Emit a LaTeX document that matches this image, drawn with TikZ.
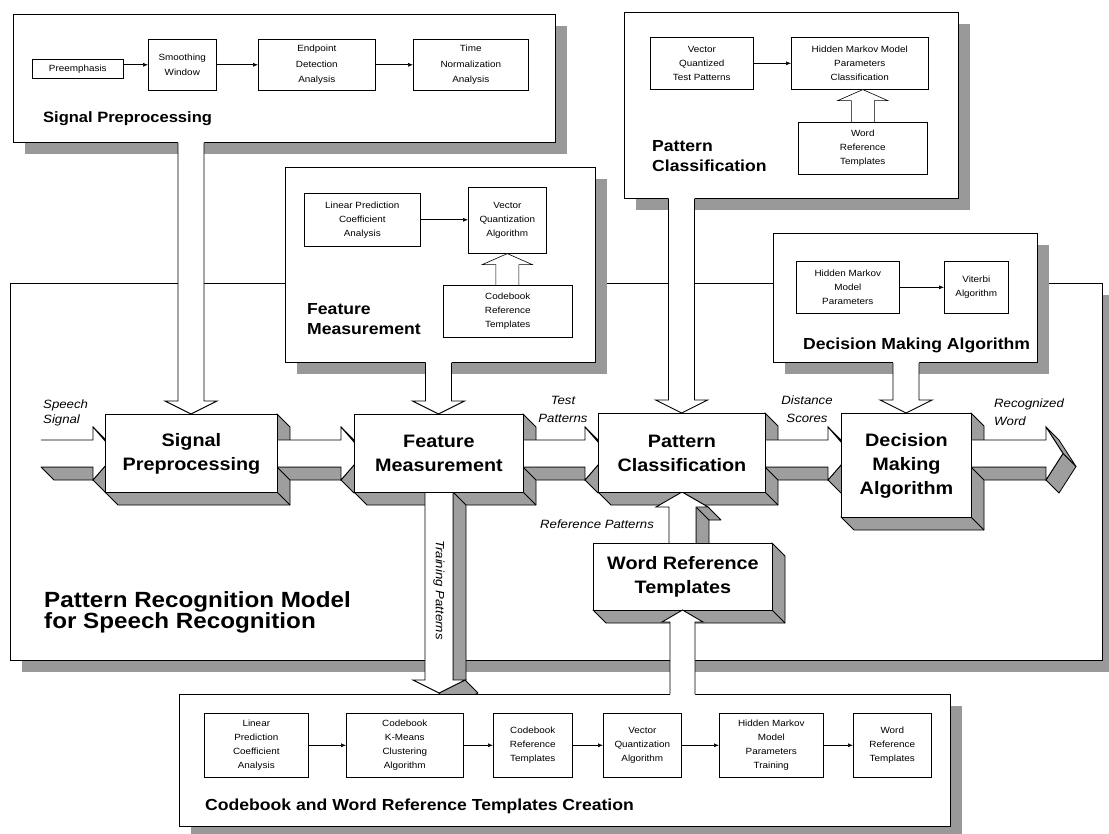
\documentclass[tikz,border=0pt]{standalone}
\usepackage{fontspec}
\setmainfont{Liberation Sans}[FakeStretch=1.1]
\usetikzlibrary{calc,arrows.meta}
\definecolor{extc}{gray}{0.62}
\definecolor{shc}{gray}{0.6}
\tikzset{
 panel/.style={draw=black,line width=0.9pt,fill=white,inner sep=0pt},
 ibox/.style={draw=black,line width=0.6pt,fill=white,align=center,inner sep=0pt,font=\fontsize{9}{14}\selectfont},
 sbox/.style={ibox,font=\fontsize{9}{15.5}\selectfont},
 arr/.style={-{Latex[length=5pt,width=4pt]},line width=0.6pt},
 bigbox/.style={draw=black,line width=0.9pt,fill=white,align=center,inner sep=0pt,font=\fontsize{18}{24}\selectfont\bfseries},
 plabel/.style={font=\fontsize{16}{20}\selectfont\bfseries,inner sep=0pt,anchor=base west},
 mlabel/.style={font=\fontsize{22}{22}\selectfont\bfseries,inner sep=0pt,anchor=base west},
 flabel/.style={font=\fontsize{12}{16}\selectfont\itshape,inner sep=0pt},
 fl/.style={draw=black,line width=0.9pt,line join=miter},
 ext/.style={fill=extc,draw=black,line width=0.8pt,line join=round},
}
\newcommand\mkpanel[5]{%
 \fill[shc] (#2+12,#3+12) rectangle (#4+12,#5+12);
 \node[panel,minimum width={(#4)-(#2)},minimum height={(#5)-(#3)},anchor=north west] (#1) at (#2,#3) {};}
\newcommand\ibx[7]{\node[#1,minimum width={(#5)-(#3)},minimum height={(#6)-(#4)},anchor=north west] (#2) at (#3,#4) {#7};}
\newcommand\bext[4]{%
 \filldraw[ext] (#1,#4) -- (#1+13,#4+13) -- (#3+13,#4+13) -- (#3+13,#2+13) -- (#3,#2) -- cycle;
 \draw[line width=0.8pt] (#3,#4) -- (#3+13,#4+13);}
\newcommand\harr[3]{%
 \filldraw[ext] (#2,427) -- (#3,453.5) -- (#3+13,466.5) -- (#2+13,440) -- cycle;
 \filldraw[ext] (#1,467) -- (#2,467) -- (#2+13,480) -- (#1+13,480) -- cycle;
 \filldraw[ext] (#2,480) -- (#3,453.5) -- (#3+13,466.5) -- (#2+13,493) -- cycle;
 \filldraw[fl,fill=white] (#1,440) -- (#2,440) -- (#2,427) -- (#3,453.5) -- (#2,480) -- (#2,467) -- (#1,467);}
\newcommand\dnarr[2]{%
 \fill[white] ($(#1)+(-13,-1)$) -- ($(#2)+(-13,-13)$) -- ($(#2)+(-26,-13)$) -- (#2) -- ($(#2)+(26,-13)$) -- ($(#2)+(13,-13)$) -- ($(#1)+(13,-1)$) -- cycle;
 \draw[fl] ($(#1)+(-13,0)$) -- ($(#2)+(-13,-13)$) -- ($(#2)+(-26,-13)$) -- (#2) -- ($(#2)+(26,-13)$) -- ($(#2)+(13,-13)$) -- ($(#1)+(13,0)$);}
\newcommand\uparr[2]{%
 \filldraw[fl,line width=0.6pt,fill=white] ($(#2)+(-11.5,0)$) -- ($(#1)+(-11.5,11)$) -- ($(#1)+(-25,11)$) -- (#1) -- ($(#1)+(25,11)$) -- ($(#1)+(11.5,11)$) -- ($(#2)+(11.5,0)$);}
\begin{document}
\begin{tikzpicture}[x=1pt,y=-1pt]
\useasboundingbox (0,0) rectangle (1109,834);
\fill[white] (0,0) rectangle (1109,834);

% ---------- main panel ----------
\mkpanel{mainP}{10}{283}{1102}{660}
\node[mlabel] (ml1) at (44,607) {Pattern Recognition Model};
\node[mlabel] (ml2) at (44,628) {for Speech Recognition};

% ---------- signal preprocessing panel ----------
\mkpanel{spP}{13}{14}{555}{142}
\ibx{sbox}{pre}{32}{59}{123}{78}{Preemphasis}
\ibx{sbox}{smw}{148}{39}{216}{90}{Smoothing\\Window}
\ibx{sbox}{epd}{258}{39}{375}{90}{Endpoint\\Detection\\Analysis}
\ibx{sbox}{tna}{413}{39}{528}{90}{Time\\Normalization\\Analysis}
\draw[arr] (smw.west -| pre.east) -- (smw.west);
\draw[arr] (smw.east) -- (epd.west);
\draw[arr] (epd.east) -- (tna.west);
\node[plabel,font=\fontsize{15}{18}\selectfont\bfseries] (spl) at (43,123) {Signal Preprocessing};

% ---------- feature measurement panel ----------
\mkpanel{fmP}{285}{167}{595}{362}
\ibx{ibox}{lpc}{304}{193}{420}{246}{Linear Prediction\\Coefficient\\Analysis}
\ibx{ibox}{vq}{468}{187}{546}{253}{Vector\\Quantization\\Algorithm}
\ibx{ibox}{crt}{443}{285}{572}{337}{Codebook\\Reference\\Templates}
\draw[arr] (lpc.east) -- (lpc.east -| vq.west);
\uparr{vq.south}{vq.south |- crt.north}
\node[plabel] (fml1) at (307,315) {Feature};
\node[plabel] (fml2) at (307,335) {Measurement};

% ---------- pattern classification panel ----------
\mkpanel{pcP}{624}{12}{958}{198}
\ibx{ibox}{vqt}{650}{37}{753}{89}{Vector\\Quantized\\Test Patterns}
\ibx{ibox}{hmc}{791}{37}{928}{89}{Hidden Markov Model\\Parameters\\Classification}
\ibx{ibox}{wrti}{798}{122}{927}{174}{Word\\Reference\\Templates}
\draw[arr] (vqt.east) -- (hmc.west);
\uparr{wrti.north |- hmc.south}{wrti.north}
\node[plabel] (pcl1) at (652,152) {Pattern};
\node[plabel] (pcl2) at (652,172) {Classification};

% ---------- decision making panel ----------
\mkpanel{dmP}{773}{233}{1037}{362}
\ibx{ibox}{hmp}{796}{261}{899}{313}{Hidden Markov\\Model\\Parameters}
\ibx{ibox}{vit}{944}{261}{1008}{313}{Viterbi\\Algorithm}
\draw[arr] (hmp.east) -- (vit.west);
\node[plabel] (dml) at (803,350) {Decision Making Algorithm};

% ---------- coordinates of the 3D flow ----------
\coordinate (spT) at (191,414);
\coordinate (fmT) at (438.5,414);
\coordinate (pcT) at (681.5,413);
\coordinate (dmT) at (906,413);

% flat arrows from panels
\dnarr{spT |- spP.south}{spT}
\dnarr{fmT |- fmP.south}{fmT}
\dnarr{pcT |- pcP.south}{pcT}
\dnarr{dmT |- dmP.south}{dmT}

% box extrusions
\bext{105}{414}{277}{492}
\bext{354}{414}{523}{492}
\bext{598}{413}{765}{492}
\bext{841}{413}{971}{517}
\bext{593}{543}{772}{610}

% horizontal 3D arrows
\harr{41}{93}{116}
\harr{277}{341}{364}
\harr{523}{585}{608}
\harr{765}{828}{851}
\harr{971}{1046}{1063}

% training patterns arrow (3D, down)
\filldraw[ext] (453,492) -- (466,505) -- (466,693) -- (453,680) -- cycle;
\filldraw[ext] (465,680) -- (478,693) -- (452,706) -- (439,693) -- cycle;
\filldraw[fl,fill=white] (425,492) -- (425,680) -- (413,680) -- (439,693) -- (465,680) -- (453,680) -- (453,492);

% reference patterns arrow (3D, up)
\filldraw[ext] (682,492) -- (708,507) -- (721,520) -- (709,520) -- (709,556) -- (696,543) -- (696,507) -- cycle;
\draw[line width=0.8pt] (696,507) -- (709,520);
\filldraw[fl,fill=white] (669,543) -- (669,507) -- (656,507) -- (682,492) -- (708,507) -- (696,507) -- (696,543);

% box fronts
\ibx{bigbox}{sp}{105}{414}{277}{492}{Signal\\Preprocessing}
\ibx{bigbox}{fm}{354}{414}{523}{492}{Feature\\Measurement}
\ibx{bigbox}{pc}{598}{413}{765}{492}{Pattern\\Classification}
\ibx{bigbox}{dma}{841}{413}{971}{517}{Decision\\Making\\Algorithm}
\ibx{bigbox}{wrt}{593}{543}{772}{610}{Word Reference\\Templates}

% flow labels
\node[flabel,anchor=base west] (ss1) at (43,408) {Speech};
\node[flabel,anchor=base west] (ss2) at (43,423) {Signal};
\node[flabel,anchor=base] (tp1) at (563,405) {Test};
\node[flabel,anchor=base] (tp2) at (563,422) {Patterns};
\node[flabel,anchor=base] (ds1) at (807,405) {Distance};
\node[flabel,anchor=base] (ds2) at (807,422) {Scores};
\node[flabel,anchor=base west] (rw1) at (994,407) {Recognized};
\node[flabel,anchor=base west] (rw2) at (994,425) {Word};
\node[flabel,anchor=base west] (rp) at (540,528) {Reference Patterns};
\node[flabel,rotate=-90] (trp) at (439,590) {Training Patterns};

% ---------- bottom panel ----------
\mkpanel{botP}{179}{694}{950}{826}
\ibx{ibox}{blpc}{204}{713}{308}{777}{Linear\\Prediction\\Coefficient\\Analysis}
\ibx{ibox}{bkm}{346}{713}{463}{777}{Codebook\\K-Means\\Clustering\\Algorithm}
\ibx{ibox}{bcrt}{493}{713}{572}{777}{Codebook\\Reference\\Templates}
\ibx{ibox}{bvq}{603}{713}{681}{777}{Vector\\Quantization\\Algorithm}
\ibx{ibox}{bhmm}{719}{713}{823}{777}{Hidden Markov\\Model\\Parameters\\Training}
\ibx{ibox}{bwrt}{853}{713}{931}{777}{Word\\Reference\\Templates}
\draw[arr] (blpc.east) -- (bkm.west);
\draw[arr] (bkm.east) -- (bcrt.west);
\draw[arr] (bcrt.east) -- (bvq.west);
\draw[arr] (bvq.east) -- (bhmm.west);
\draw[arr] (bhmm.east) -- (bwrt.west);
\node[plabel] (botl) at (205,810) {Codebook and Word Reference Templates Creation};

% flat arrow from bottom panel up to word reference templates
\coordinate (wrB) at (682.5,610);
\fill[white] (670,695) -- (670,622) -- (662,622) -- (wrB) -- (703,622) -- (695,622) -- (695,695) -- cycle;
\draw[fl] (670,694) -- (670,622) -- (662,622) -- (wrB) -- (703,622) -- (695,622) -- (695,694);
\end{tikzpicture}
\end{document}
